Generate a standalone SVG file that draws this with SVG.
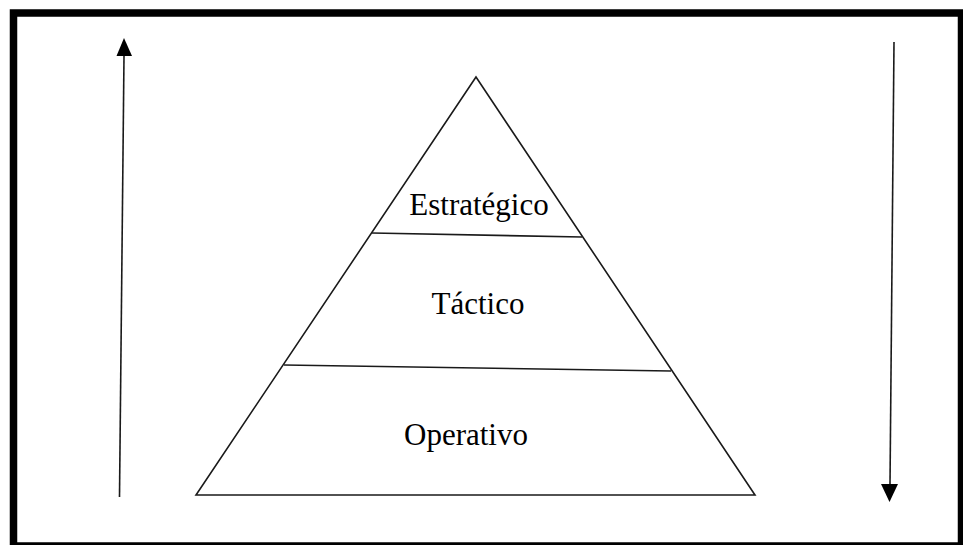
<svg xmlns="http://www.w3.org/2000/svg" width="963" height="545" viewBox="0 0 963 545">
  <style>
    .ln { stroke: #1a1a1a; stroke-width: 1.6; fill: none; }
    .lbl { font-family: "Liberation Serif", "Times New Roman", serif; font-size: 31px; fill: #000; text-anchor: middle; }
  </style>
  <rect x="0" y="0" width="963" height="545" fill="#fff"/>
  <rect id="frame" x="13.5" y="13" width="948" height="533" fill="none" stroke="#000" stroke-width="7.5"/>

  <g id="pyramid">
    <polygon class="ln" points="476,77 196,495 755,495"/>
  </g>
  <g id="estrategico">
    <line class="ln" x1="372" y1="233" x2="582" y2="237"/>
    <text class="lbl" x="479" y="215">Estratégico</text>
  </g>
  <g id="tactico">
    <line class="ln" x1="284" y1="365" x2="671" y2="371"/>
    <text class="lbl" x="478" y="314">Táctico</text>
  </g>
  <g id="operativo">
    <text class="lbl" x="466" y="445">Operativo</text>
  </g>

  <g id="connectors">
    <line class="ln" x1="119.5" y1="497" x2="124" y2="56"/>
    <polygon points="124,38 116.5,56 132,56" fill="#000"/>
    <line class="ln" x1="894" y1="42" x2="890" y2="485"/>
    <polygon points="889.5,502 881,484 898,484" fill="#000"/>
  </g>
</svg>
